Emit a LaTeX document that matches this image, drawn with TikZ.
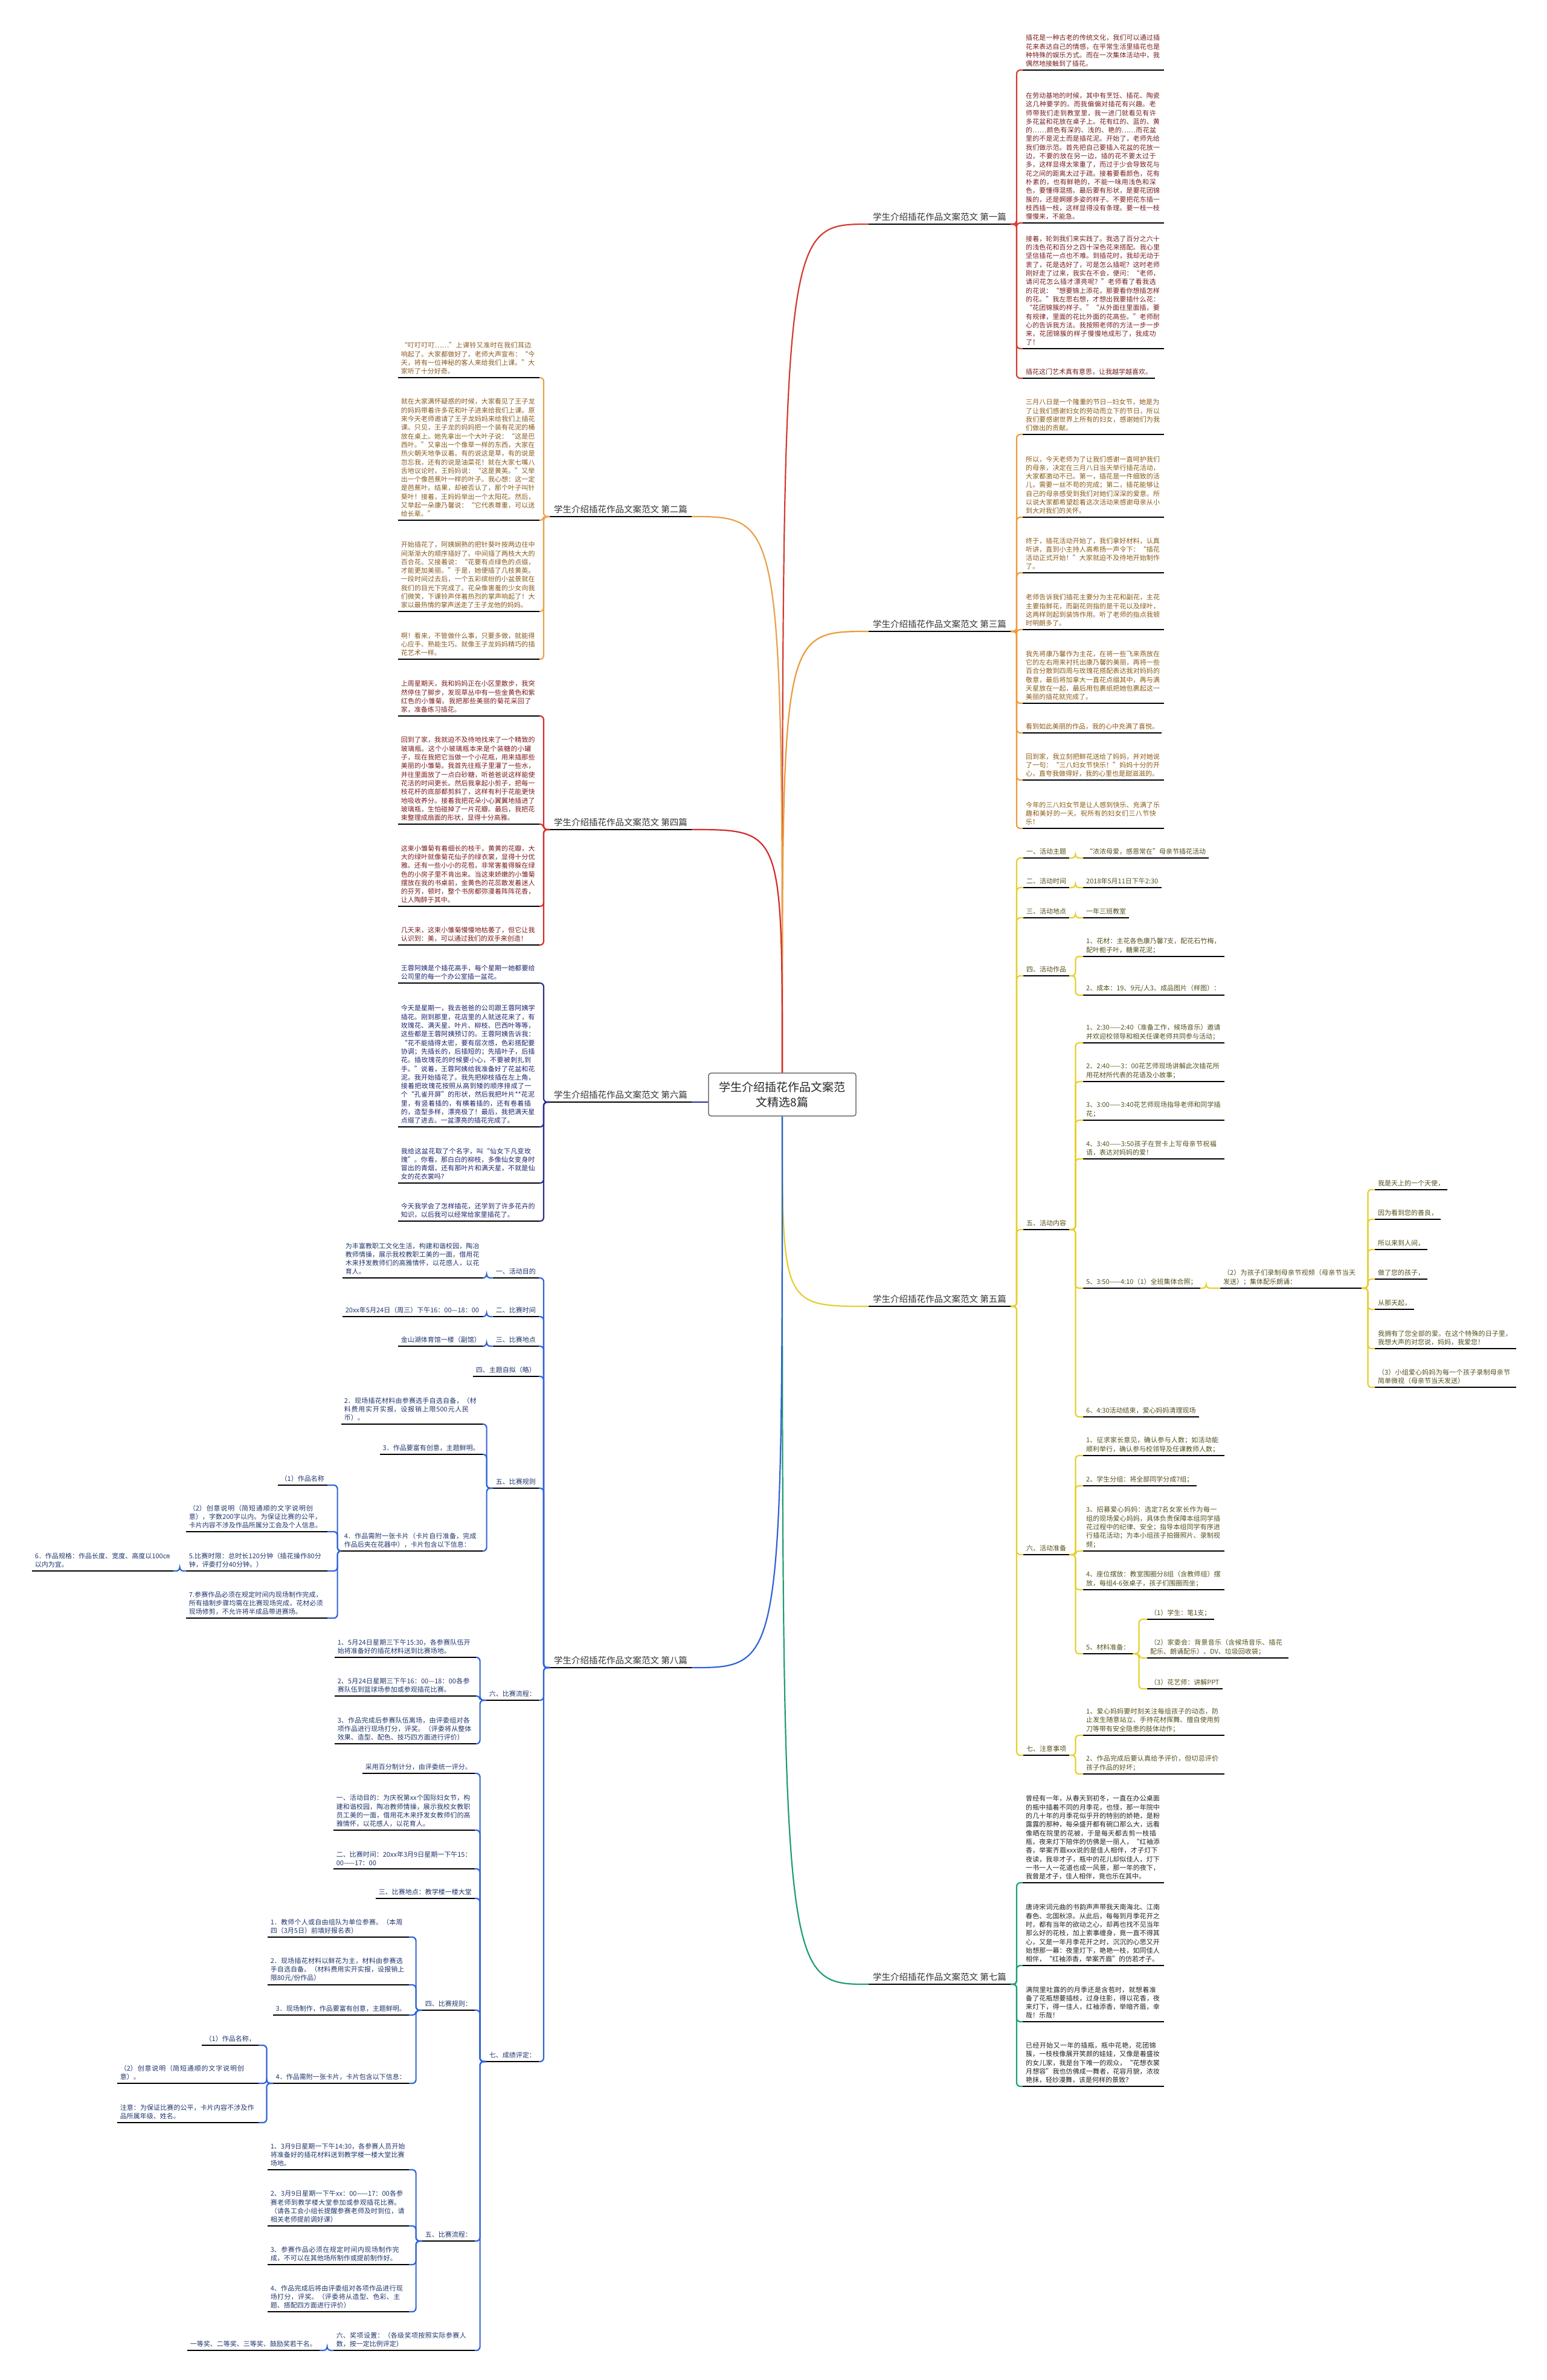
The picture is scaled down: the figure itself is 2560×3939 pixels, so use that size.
\documentclass[tikz,border=0pt]{standalone}
\usepackage{fontspec}
\setmainfont{Noto Sans CJK SC}
\XeTeXlinebreaklocale "zh"
\XeTeXlinebreakskip=0pt plus 1pt
\tolerance=9999 \emergencystretch=15pt \hbadness=10000
\usepackage{xcolor}
\definecolor{lnA}{HTML}{D23B2E}
\definecolor{txA}{HTML}{7A1E1E}
\definecolor{lnB}{HTML}{E9A04B}
\definecolor{txB}{HTML}{8A5A1C}
\definecolor{lnC}{HTML}{EB9A3A}
\definecolor{txC}{HTML}{8C5A14}
\definecolor{lnD}{HTML}{D42A2A}
\definecolor{txD}{HTML}{7D1B1B}
\definecolor{lnE}{HTML}{E6CE2E}
\definecolor{txE}{HTML}{55501A}
\definecolor{lnF}{HTML}{2A2C8C}
\definecolor{txF}{HTML}{1D2570}
\definecolor{lnG}{HTML}{1F9E6E}
\definecolor{txG}{HTML}{222222}
\definecolor{lnH}{HTML}{2F62D6}
\definecolor{txH}{HTML}{1F356E}
\newcommand\leaffont{\fontsize{11}{14.3}\selectfont}
\newcommand\branchfont{\fontsize{14.5}{18}\selectfont}
\newcommand\hubfont{\fontsize{19}{25.5}\selectfont}
\tikzset{
  uline/.style={line width=2.2pt, draw=black},
  ul/.style={append after command={(\tikzlastnode.south west) edge[uline] (\tikzlastnode.south east)}},
  leaf/.style={ul, font=\leaffont, text width=224pt, align=left, inner xsep=5pt, inner ysep=5pt},
  tag/.style={ul, font=\leaffont, inner xsep=5pt, inner ysep=5pt},
  branch/.style={ul, font=\branchfont, text=black!80, inner xsep=7pt, inner ysep=5pt},
  hub/.style={draw=black!70, line width=1.2pt, rounded corners=4pt, font=\hubfont, align=center,
    minimum width=244pt, minimum height=71pt, text=black!85},
  elbowR/.style={rounded corners=6pt, to path={-- ++(#1,0) |- (\tikztotarget)}}, elbowR/.default=10,
  elbowL/.style={rounded corners=6pt, to path={-- ++(-#1,0) |- (\tikztotarget)}}, elbowL/.default=10,
}
\begin{document}
\begin{tikzpicture}[x=1pt, y=-1pt]
\useasboundingbox (0,0) rectangle (2560,3939);
\node[hub] (hub) at (1295,1811.5) {学生介绍插花作品文案范\\文精选8篇};

% 第一篇
\begin{scope}[text=txA, conn/.style={draw=lnA, line width=2.2pt}]
\node[branch, anchor=south east] (b1) at (1673,371) {学生介绍插花作品文案范文 第一篇};
\node[leaf, anchor=south west] (c1) at (1693,116) {插花是一种古老的传统文化，我们可以通过插花来表达自己的情感，在平常生活里插花也是种特殊的娱乐方式。而在一次集体活动中，我偶然地接触到了插花。};
\node[leaf, anchor=south west] (c2) at (1693,369) {在劳动基地的时候，其中有烹饪、插花、陶瓷这几种要学的。而我偏偏对插花有兴趣。老师带我们走到教室里，我一进门就看见有许多花盆和花放在桌子上。花有红的、蓝的、黄的……颜色有深的、浅的、艳的……而花盆里的不是泥土而是插花泥。开始了，老师先给我们做示范。首先把自己要插入花盆的花放一边，不要的放在另一边，插的花不要太过于多，这样显得太笨重了，而过于少会导致花与花之间的距离太过于疏。接着要看颜色，花有朴素的，也有鲜艳的，不能一味用浅色和深色，要懂得混搭。最后要有形状，是要花团锦簇的，还是婀娜多姿的样子。不要把花东插一枝西插一枝，这样显得没有条理。要一枝一枝慢慢来，不能急。};
\node[leaf, anchor=south west] (c3) at (1693,577) {接着，轮到我们来实践了。我选了百分之六十的浅色花和百分之四十深色花来搭配。我心里坚信插花一点也不难。到插花时，我却无动于衷了，花是选好了，可是怎么插呢？这时老师刚好走了过来，我实在不会，便问：“老师，请问花怎么插才漂亮呢？”老师看了看我选的花说：“想要锦上添花，那要看你想插怎样的花。”我左思右想，才想出我要插什么花：“花团锦簇的样子。”“从外面往里面插，要有规律，里面的花比外面的花高些。”老师耐心的告诉我方法。我按照老师的方法一步一步来，花团锦簇的样子慢慢地成形了，我成功了！};
\node[tag, anchor=south west] (c4) at (1693,626) {插花这门艺术真有意思，让我越学越喜欢。};
\foreach \n in {c1,c2,c3,c4} \draw[conn, elbowR] (b1.south east) to (\n.south west);
\draw[conn] (hub.north) .. controls (hub.north |- b1.south west) .. (b1.south west);
\end{scope}

% 第三篇
\begin{scope}[text=txC, conn/.style={draw=lnC, line width=2.2pt}]
\node[branch, anchor=south east] (b3) at (1673,1045) {学生介绍插花作品文案范文 第三篇};
\node[leaf, anchor=south west] (d1) at (1693,719) {三月八日是一个隆重的节日—妇女节，她是为了让我们感谢妇女的劳动而立下的节日，所以我们要感谢世界上所有的妇女，感谢她们为我们做出的贡献。};
\node[leaf, anchor=south west] (d2) at (1693,856) {所以，今天老师为了让我们感谢一直呵护我们的母亲，决定在三月八日当天举行插花活动，大家都激动不已。第一，插花是一件细致的活儿，需要一丝不苟的完成；第二，插花能够让自己的母亲感受到我们对她们深深的爱意。所以说大家都希望趁着这次活动来感谢母亲从小到大对我们的关怀。};
\node[leaf, anchor=south west] (d3) at (1693,948) {终于，插花活动开始了，我们拿好材料，认真听讲，直到小主持人高希扬一声令下：“插花活动正式开始！”大家就迫不及待地开始制作了。};
\node[leaf, anchor=south west] (d4) at (1693,1042) {老师告诉我们插花主要分为主花和副花，主花主要指鲜花，而副花则指的是干花以及绿叶，这两样则起到装饰作用。听了老师的指点我顿时明朗多了。};
\node[leaf, anchor=south west] (d5) at (1693,1164) {我先将康乃馨作为主花，在将一些飞来燕放在它的左右用来衬托出康乃馨的美丽，再将一些百合分散到四周与玫瑰花搭配表达我对妈妈的敬意，最后将加拿大一直花点缀其中，再与满天星放在一起，最后用包裹纸把她包裹起这一美丽的插花就完成了。};
\node[tag, anchor=south west] (d6) at (1693,1213) {看到如此美丽的作品，我的心中充满了喜悦。};
\node[leaf, anchor=south west] (d7) at (1693,1291) {回到家，我立刻把鲜花送给了妈妈，并对她说了一句：“三八妇女节快乐！”妈妈十分的开心，直夸我做得好，我的心里也是甜滋滋的。};
\node[leaf, anchor=south west] (d8) at (1693,1371) {今年的三八妇女节是让人感到快乐、充满了乐趣和美好的一天。祝所有的妇女们三八节快乐！};
\foreach \n in {d1,d2,d3,d4,d5,d6,d7,d8} \draw[conn, elbowR] (b3.south east) to (\n.south west);
\draw[conn] (hub.north) .. controls (hub.north |- b3.south west) .. (b3.south west);
\end{scope}

% 第五篇
\begin{scope}[text=txE, conn/.style={draw=lnE, line width=2.2pt}]
\node[branch, anchor=south east] (b5) at (1673,2162) {学生介绍插花作品文案范文 第五篇};
\node[tag, anchor=south west] (e1) at (1694,1420) {一、活动主题};
\node[tag, anchor=south west] (e1a) at (1793,1420) {“浓浓母爱，感恩常在”母亲节插花活动};
\node[tag, anchor=south west] (e2) at (1694,1469) {二、活动时间};
\node[tag, anchor=south west] (e2a) at (1793,1469) {2018年5月11日下午2:30};
\node[tag, anchor=south west] (e3) at (1694,1519) {三、活动地点};
\node[tag, anchor=south west] (e3a) at (1793,1519) {一年三班教室};
\node[tag, anchor=south west] (e4) at (1694,1615) {四、活动作品};
\node[leaf, anchor=south west] (e4a) at (1793,1583) {1、花材：主花各色康乃馨7支，配花石竹梅，配叶栀子叶，糖果花泥；};
\node[leaf, anchor=south west] (e4b) at (1793,1647) {2、成本：19、9元/人3、成品图片（样图）：};
\node[tag, anchor=south west] (e5) at (1694,2035) {五、活动内容};
\node[leaf, anchor=south west] (e5a) at (1793,1726) {1、2:30——2:40（准备工作，候场音乐）邀请并欢迎校领导和相关任课老师共同参与活动；};
\node[leaf, anchor=south west] (e5b) at (1793,1790) {2、2:40——3：00花艺师现场讲解此次插花所用花材所代表的花语及小故事；};
\node[leaf, anchor=south west] (e5c) at (1793,1854) {3、3:00——3:40花艺师现场指导老师和同学插花；};
\node[leaf, anchor=south west] (e5d) at (1793,1918) {4、3:40——3:50孩子在贺卡上写母亲节祝福语，表达对妈妈的爱！};
\node[tag, anchor=south west] (e5e) at (1793,2132) {5、3:50——4:10（1）全班集体合照；};
\node[leaf, anchor=south west] (e5f) at (2020,2132) {（2）为孩子们录制母亲节视频（母亲节当天发送）；集体配乐朗诵：};
\node[tag, anchor=south west] (p1) at (2276,1969) {我是天上的一个天使，};
\node[tag, anchor=south west] (p2) at (2276,2018) {因为看到您的善良，};
\node[tag, anchor=south west] (p3) at (2276,2068) {所以来到人间，};
\node[tag, anchor=south west] (p4) at (2276,2117) {做了您的孩子，};
\node[tag, anchor=south west] (p5) at (2276,2167) {从那天起，};
\node[leaf, anchor=south west] (p6) at (2276,2232) {我拥有了您全部的爱。在这个特殊的日子里，我想大声的对您说，妈妈，我爱您！};
\node[leaf, anchor=south west] (p7) at (2276,2296) {（3）小组爱心妈妈为每一个孩子录制母亲节简单微视（母亲节当天发送）};
\node[tag, anchor=south west] (e5g) at (1793,2345) {6、4:30活动结束，爱心妈妈清理现场};
\node[tag, anchor=south west] (e6) at (1694,2573) {六、活动准备};
\node[leaf, anchor=south west] (e6a) at (1793,2409) {1、征求家长意见，确认参与人数；如活动能顺利举行，确认参与校领导及任课教师人数；};
\node[tag, anchor=south west] (e6b) at (1793,2459) {2、学生分组：将全部同学分成7组；};
\node[leaf, anchor=south west] (e6c) at (1793,2567) {3、招募爱心妈妈：选定7名女家长作为每一组的现场爱心妈妈，具体负责保障本组同学插花过程中的纪律、安全；指导本组同学有序进行插花活动；为本小组孩子拍摄照片、录制视频；};
\node[leaf, anchor=south west] (e6d) at (1793,2631) {4、座位摆放：教室围圈分8组（含教师组）摆放，每组4-6张桌子，孩子们围圈而坐；};
\node[tag, anchor=south west] (e6e) at (1793,2737) {5、材料准备：};
\node[tag, anchor=south west] (m1) at (1899,2680) {（1）学生：笔1支；};
\node[leaf, anchor=south west] (m2) at (1899,2744) {（2）家委会：背景音乐（含候场音乐、插花配乐、朗诵配乐）、DV、垃圾回收袋；};
\node[tag, anchor=south west] (m3) at (1899,2795) {（3）花艺师：讲解PPT};
\node[tag, anchor=south west] (e7) at (1694,2905) {七、注意事项};
\node[leaf, anchor=south west] (e7a) at (1793,2872) {1、爱心妈妈要时刻关注每组孩子的动态，防止发生随意站立、手持花材挥舞、擅自使用剪刀等带有安全隐患的肢体动作；};
\node[leaf, anchor=south west] (e7b) at (1793,2936) {2、作品完成后要认真给予评价，但切忌评价孩子作品的好坏；};
\foreach \n in {e1,e2,e3,e4,e5,e6,e7} \draw[conn, elbowR] (b5.south east) to (\n.south west);
\draw[conn, elbowR] (e1.south east) to (e1a.south west);
\draw[conn, elbowR] (e2.south east) to (e2a.south west);
\draw[conn, elbowR] (e3.south east) to (e3a.south west);
\foreach \n in {e4a,e4b} \draw[conn, elbowR] (e4.south east) to (\n.south west);
\foreach \n in {e5a,e5b,e5c,e5d,e5e,e5g} \draw[conn, elbowR] (e5.south east) to (\n.south west);
\draw[conn, elbowR] (e5e.south east) to (e5f.south west);
\foreach \n in {p1,p2,p3,p4,p5,p6,p7} \draw[conn, elbowR] (e5f.south east) to (\n.south west);
\foreach \n in {e6a,e6b,e6c,e6d,e6e} \draw[conn, elbowR] (e6.south east) to (\n.south west);
\foreach \n in {m1,m2,m3} \draw[conn, elbowR] (e6e.south east) to (\n.south west);
\foreach \n in {e7a,e7b} \draw[conn, elbowR] (e7.south east) to (\n.south west);
\draw[conn] (hub.south) .. controls (hub.south |- b5.south west) .. (b5.south west);
\end{scope}

% 第七篇
\begin{scope}[text=txG, conn/.style={draw=lnG, line width=2.2pt}]
\node[branch, anchor=south east] (b7) at (1673,3284) {学生介绍插花作品文案范文 第七篇};
\node[leaf, anchor=south west] (g1) at (1693,3116) {曾经有一年，从春天到初冬，一直在办公桌面的瓶中插着不同的月季花，也怪，那一年院中的几十年的月季花似乎开的特别的娇艳，是粉露露的那种，每朵盛开都有碗口那么大，远看像晒在院里的花被，于是每天都去剪一枝插瓶，夜来灯下陪伴的仿佛是一丽人，“红袖添香，举案齐眉xxx说的是佳人相伴，才子灯下夜读，我非才子，瓶中的花儿却似佳人，灯下一书一人一花道也成一风景，那一年的夜下，我曾是才子，佳人相伴，竟也乐在其中。};
\node[leaf, anchor=south west] (g2) at (1693,3253) {唐诗宋词元曲的书韵声声带我天南海北、江南春色、北国秋凉。从此后，每每到月季花开之时，都有当年的欲动之心，却再也找不见当年那么好的花枝，加上索事缠身，竟一直不得其心，又是一年月季花开之时，沉沉的心思又开始想那一幕：夜里灯下，艳艳一枝，如同佳人相伴，“红袖添香，举案齐眉”的仿若才子。};
\node[leaf, anchor=south west] (g3) at (1693,3346) {满院里吐露的的月季还是含苞时，就想着准备了花瓶想要插枝，过身往影，得以花香，夜来灯下，得一佳人，红袖添香，举暗齐眉，幸哉！乐哉！};
\node[leaf, anchor=south west] (g4) at (1693,3453) {已经开始又一年的插瓶，瓶中花艳，花团锦簇，一枝枝像展开笑颜的娃娃，又像是着盛妆的女儿家，我是台下唯一的观众，“花想衣裳月想容”我也仿佛成一舞者，花容月貌，浓妆艳抹，轻纱漫舞，该是何样的景致？};
\foreach \n in {g1,g2,g3,g4} \draw[conn, elbowR] (b7.south east) to (\n.south west);
\draw[conn] (hub.south) .. controls (hub.south |- b7.south west) .. (b7.south west);
\end{scope}

% 第二篇
\begin{scope}[text=txB, conn/.style={draw=lnB, line width=2.2pt}]
\node[branch, anchor=south west] (b2) at (910,855) {学生介绍插花作品文案范文 第二篇};
\node[leaf, anchor=south east] (f1) at (893,625) {“叮叮叮叮……”上课铃又准时在我们耳边响起了。大家都做好了。老师大声宣布：“今天，将有一位神秘的客人来给我们上课。”大家听了十分好奇。};
\node[leaf, anchor=south east] (f2) at (893,861) {就在大家满怀疑惑的时候，大家看见了王子龙的妈妈带着许多花和叶子进来给我们上课。原来今天老师邀请了王子龙妈妈来给我们上插花课。只见，王子龙的妈妈把一个装有花泥的桶放在桌上。她先拿出一个大叶子说：“这是巴西叶。”又拿出一个像草一样的东西，大家在热火朝天地争议着。有的说这是草，有的说是忽忘我，还有的说是油菜花！就在大家七嘴八舌地议论时，王妈妈说：“这是黄英。”又举出一个像芭蕉叶一样的叶子。我心想：这一定是芭蕉叶。结果，却被否认了，那个叶子叫针葵叶！接着，王妈妈举出一个太阳花。然后，又举起一朵康乃馨说：“它代表尊重，可以送给长辈。”};
\node[leaf, anchor=south east] (f3) at (893,1012) {开始插花了，阿姨娴熟的把针葵叶按两边往中间渐渐大的顺序插好了。中间插了两枝大大的百合花。又接着说：“花要有点绿色的点缀，才能更加美丽。”于是，她便插了几枝黄英。一段时间过去后，一个五彩缤纷的小盆景就在我们的目光下完成了。花朵像害羞的少女向我们微笑，下课铃声伴着热烈的掌声响起了！大家以最热情的掌声送走了王子龙他的妈妈。};
\node[leaf, anchor=south east] (f4) at (893,1091) {啊！看来，不管做什么事，只要多做，就能得心应手、熟能生巧。就像王子龙妈妈精巧的插花艺术一样。};
\foreach \n in {f1,f2,f3,f4} \draw[conn, elbowL] (b2.south west) to (\n.south east);
\draw[conn] (hub.north) .. controls (hub.north |- b2.south east) .. (b2.south east);
\end{scope}

% 第四篇
\begin{scope}[text=txD, conn/.style={draw=lnD, line width=2.2pt}]
\node[branch, anchor=south west] (b4) at (910,1373) {学生介绍插花作品文案范文 第四篇};
\node[leaf, anchor=south east] (h1) at (893,1185) {上周星期天，我和妈妈正在小区里散步，我突然停住了脚步，发现草丛中有一些金黄色和紫红色的小雏菊。我把那些美丽的菊花采回了家，准备练习插花。};
\node[leaf, anchor=south east] (h2) at (893,1364) {回到了家，我就迫不及待地找来了一个精致的玻璃瓶。这个小玻璃瓶本来是个装糖的小罐子，现在我把它当做一个小花瓶，用来插那些美丽的小雏菊。我首先往瓶子里灌了一些水，并往里面放了一点白砂糖，听爸爸说这样能使花活的时间更长。然后我拿起小剪子，把每一枝花杆的底部都剪斜了，这样有利于花能更快地吸收养分。接着我把花朵小心翼翼地插进了玻璃瓶，生怕碰掉了一片花瓣。最后，我把花束整理成扇面的形状，显得十分高雅。};
\node[leaf, anchor=south east] (h3) at (893,1500) {这束小雏菊有着细长的枝干，黄黄的花瓣，大大的绿叶就像菊花仙子的绿衣裳，显得十分优雅。还有一些小小的花苞，非常害羞得躲在绿色的小房子里不肯出来。当这束娇嫩的小雏菊摆放在我的书桌前，金黄色的花蕊散发着迷人的芬芳，顿时，整个书房都弥漫着阵阵花香，让人陶醉于其中。};
\node[leaf, anchor=south east] (h4) at (893,1564) {几天来，这束小雏菊慢慢地枯萎了，但它让我认识到：美，可以通过我们的双手来创造！};
\foreach \n in {h1,h2,h3,h4} \draw[conn, elbowL] (b4.south west) to (\n.south east);
\draw[conn] (hub.north) .. controls (hub.north |- b4.south east) .. (b4.south east);
\end{scope}

% 第六篇
\begin{scope}[text=txF, conn/.style={draw=lnF, line width=2.2pt}]
\node[branch, anchor=south west] (b6) at (910,1824) {学生介绍插花作品文案范文 第六篇};
\node[leaf, anchor=south east] (k1) at (893,1627) {王蓉阿姨是个插花高手，每个星期一她都要给公司里的每一个办公室插一盆花。};
\node[leaf, anchor=south east] (k2) at (893,1865) {今天是星期一，我去爸爸的公司跟王蓉阿姨学插花。刚到那里，花店里的人就送花来了，有玫瑰花、满天星、叶片、柳枝、巴西叶等等，这些都是王蓉阿姨预订的。王蓉阿姨告诉我：“花不能插得太密，要有层次感，色彩搭配要协调；先插长的，后插短的；先插叶子，后插花。插玫瑰花的时候要小心，不要被刺扎到手。”说着，王蓉阿姨给我准备好了花盆和花泥。我开始插花了。我先把柳枝插在左上角，接着把玫瑰花按照从高到矮的顺序排成了一个“孔雀开屏”的形状，然后我把叶片**花泥里，有竖着插的，有横着插的，还有卷着插的，造型多样，漂亮极了！最后，我把满天星点缀了进去。一盆漂亮的插花完成了。};
\node[leaf, anchor=south east] (k3) at (893,1958) {我给这盆花取了个名字，叫“仙女下凡变玫瑰”。你看，那白白的柳枝，多像仙女变身时冒出的青烟，还有那叶片和满天星，不就是仙女的花衣裳吗？};
\node[leaf, anchor=south east] (k4) at (893,2021) {今天我学会了怎样插花，还学到了许多花卉的知识，以后我可以经常给家里插花了。};
\foreach \n in {k1,k2,k3,k4} \draw[conn, elbowL] (b6.south west) to (\n.south east);
\draw[conn] (hub.west |- b6.south east) -- (b6.south east);
\end{scope}

% 第八篇
\begin{scope}[text=txH, conn/.style={draw=lnH, line width=2.2pt}]
\node[branch, anchor=south west] (b8) at (910,2760) {学生介绍插花作品文案范文 第八篇};
\node[tag, anchor=south east] (q1) at (892,2115) {一、活动目的};
\node[leaf, anchor=south east] (q1a) at (801,2115) {为丰富教职工文化生活，构建和谐校园，陶冶教师情操，展示我校教职工美的一面，借用花木来抒发教师们的高雅情怀，以花感人，以花育人。};
\node[tag, anchor=south east] (q2) at (892,2179) {二、比赛时间};
\node[leaf, anchor=south east] (q2a) at (801,2179) {20xx年5月24日（周三）下午16：00—18：00};
\node[tag, anchor=south east] (q3) at (892,2228) {三、比赛地点};
\node[tag, anchor=south east] (q3a) at (801,2228) {金山湖体育馆一楼（副馆）};
\node[tag, anchor=south east] (q4) at (892,2278) {四、主题自拟（略）};
\node[tag, anchor=south east] (q5) at (892,2463) {五、比赛规则};
\node[leaf, anchor=south east] (r2) at (799,2357) {2．现场插花材料由参赛选手自选自备，（材料费用实开实报，设报销上限500元人民币）。};
\node[tag, anchor=south east] (r3) at (799,2407) {3．作品要富有创意，主题鲜明。};
\node[leaf, anchor=south east] (r4) at (799,2567) {4．作品需附一张卡片（卡片自行准备，完成作品后夹在花器中），卡片包含以下信息：};
\node[tag, anchor=south east] (s1) at (542,2458) {（1）作品名称};
\node[leaf, anchor=south east] (s2) at (542,2535) {（2）创意说明（简短通顺的文字说明创意），字数200字以内。为保证比赛的公平，卡片内容不涉及作品所属分工会及个人信息。};
\node[leaf, anchor=south east] (s5) at (542,2600) {5.比赛时限：总时长120分钟（插花操作80分钟，评委打分40分钟。）};
\node[leaf, anchor=south east] (s6) at (287,2600) {6．作品规格：作品长度、宽度、高度以100㎝以内为宜。};
\node[leaf, anchor=south east] (s7) at (542,2678) {7.参赛作品必须在规定时间内现场制作完成，所有插制步骤均需在比赛现场完成，花材必须现场修剪，不允许将半成品带进赛场。};
\node[tag, anchor=south east] (q6) at (892,2814) {六、比赛流程：};
\node[leaf, anchor=south east] (t1) at (788,2743) {1、5月24日星期三下午15:30，各参赛队伍开始将准备好的插花材料送到比赛场地。};
\node[leaf, anchor=south east] (t2) at (788,2807) {2、5月24日星期三下午16：00—18：00各参赛队伍到篮球场参加或参观插花比赛。};
\node[leaf, anchor=south east] (t3) at (788,2886) {3、作品完成后参赛队伍离场，由评委组对各项作品进行现场打分，评奖。（评委将从整体效果、造型、配色、技巧四方面进行评价）};
\node[tag, anchor=south east] (q7) at (892,3412) {七、成绩评定：};
\node[tag, anchor=south east] (u0) at (786,2935) {采用百分制计分，由评委统一评分。};
\node[leaf, anchor=south east] (u1) at (786,3029) {一、活动目的：为庆祝第xx个国际妇女节，构建和谐校园，陶冶教师情操，展示我校女教职员工美的一面，借用花木来抒发女教师们的高雅情怀，以花感人，以花育人。};
\node[leaf, anchor=south east] (u2) at (786,3093) {二、比赛时间：20xx年3月9日星期一下午15：00——17：00};
\node[tag, anchor=south east] (u3) at (786,3142) {三、比赛地点：教学楼一楼大堂};
\node[tag, anchor=south east] (u4) at (786,3327) {四、比赛规则：};
\node[leaf, anchor=south east] (v1) at (677,3206) {1．教师个人或自由组队为单位参赛。（本周四（3月5日）前填好报名表）};
\node[leaf, anchor=south east] (v2) at (677,3285) {2．现场插花材料以鲜花为主，材料由参赛选手自选自备。（材料费用实开实报，设报销上限80元/份作品）};
\node[tag, anchor=south east] (v3) at (677,3335) {3．现场制作，作品要富有创意，主题鲜明。};
\node[tag, anchor=south east] (v4) at (677,3448) {4．作品需附一张卡片，卡片包含以下信息：};
\node[tag, anchor=south east] (w1) at (428,3385) {（1）作品名称，};
\node[leaf, anchor=south east] (w2) at (428,3448) {（2）创意说明（简短通顺的文字说明创意）。};
\node[leaf, anchor=south east] (w3) at (428,3513) {注意：为保证比赛的公平，卡片内容不涉及作品所属年级、姓名。};
\node[tag, anchor=south east] (u5) at (786,3709) {五、比赛流程：};
\node[leaf, anchor=south east] (x1) at (677,3591) {1、3月9日星期一下午14:30，各参赛人员开始将准备好的插花材料送到教学楼一楼大堂比赛场地。};
\node[leaf, anchor=south east] (x2) at (677,3684) {2、3月9日星期一下午xx：00——17：00各参赛老师到教学楼大堂参加或参观插花比赛。（请各工会小组长提醒参赛老师及时到位，请相关老师提前调好课）};
\node[leaf, anchor=south east] (x3) at (677,3748) {3、参赛作品必须在规定时间内现场制作完成，不可以在其他场所制作或提前制作好。};
\node[leaf, anchor=south east] (x4) at (677,3826) {4、作品完成后将由评委组对各项作品进行现场打分，评奖。（评委将从造型、色彩、主题、搭配四方面进行评价）};
\node[leaf, anchor=south east] (u6) at (786,3890) {六、奖项设置：（各级奖项按照实际参赛人数，按一定比例评定）};
\node[tag, anchor=south east] (u6a) at (529,3890) {一等奖、二等奖、三等奖、鼓励奖若干名。};
\foreach \n in {q1,q2,q3,q4,q5,q6,q7} \draw[conn, elbowL] (b8.south west) to (\n.south east);
\draw[conn, elbowL] (q1.south west) to (q1a.south east);
\draw[conn, elbowL] (q2.south west) to (q2a.south east);
\draw[conn, elbowL] (q3.south west) to (q3a.south east);
\foreach \n in {r2,r3,r4} \draw[conn, elbowL] (q5.south west) to (\n.south east);
\foreach \n in {s1,s2,s5,s7} \draw[conn, elbowL=6] (r4.south west) to (\n.south east);
\draw[conn, elbowL] (s5.south west) to (s6.south east);
\foreach \n in {t1,t2,t3} \draw[conn, elbowL] (q6.south west) to (\n.south east);
\foreach \n in {u0,u1,u2,u3,u4,u5,u6} \draw[conn, elbowL] (q7.south west) to (\n.south east);
\foreach \n in {v1,v2,v3,v4} \draw[conn, elbowL] (u4.south west) to (\n.south east);
\foreach \n in {w1,w2,w3} \draw[conn, elbowL] (v4.south west) to (\n.south east);
\foreach \n in {x1,x2,x3,x4} \draw[conn, elbowL] (u5.south west) to (\n.south east);
\draw[conn, elbowL] (u6.south west) to (u6a.south east);
\draw[conn] (hub.south) .. controls (hub.south |- b8.south east) .. (b8.south east);
\end{scope}
\end{tikzpicture}
\end{document}
